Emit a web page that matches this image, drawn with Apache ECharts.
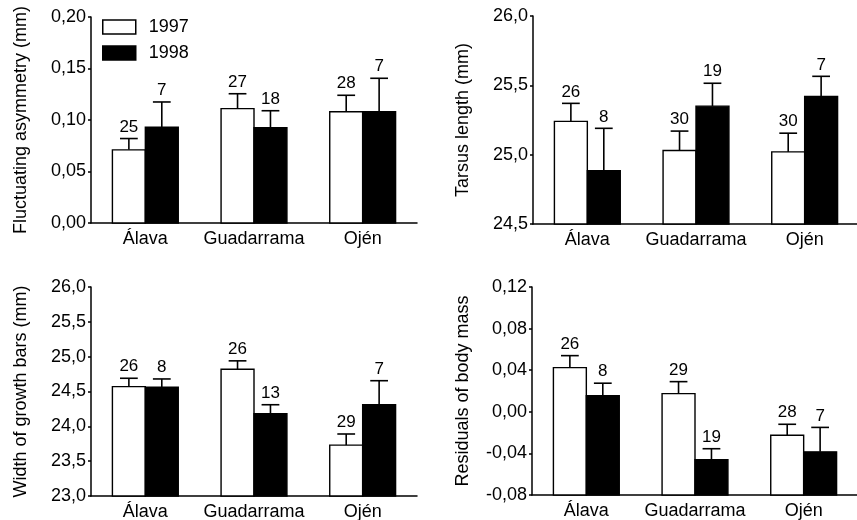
<!DOCTYPE html>
<html><head><meta charset="utf-8">
<script src="https://cdn.jsdelivr.net/npm/echarts@6/dist/echarts.min.js"></script>
<style>html,body{margin:0;padding:0;background:#fff}#c{width:857px;height:520px}</style>
</head><body><div id="c"></div>
<script>
const categories = ['Álava', 'Guadarrama', 'Ojén'];
const years = ['1997', '1998'];

// Panel A: Fluctuating asymmetry (mm)
const faMean1997 = [0.071, 0.111, 0.108];
const faSE1997   = [0.011, 0.0145, 0.016];
const faN1997    = [25, 27, 28];
const faMean1998 = [0.093, 0.0925, 0.108];
const faSE1998   = [0.0245, 0.0165, 0.0325];
const faN1998    = [7, 18, 7];

// Panel B: Tarsus length (mm)
const tlMean1997 = [25.24, 25.03, 25.02];
const tlSE1997   = [0.13, 0.14, 0.135];
const tlN1997    = [26, 30, 30];
const tlMean1998 = [24.885, 25.35, 25.42];
const tlSE1998   = [0.305, 0.165, 0.145];
const tlN1998    = [8, 19, 7];

// Panel C: Width of growth bars (mm)
const gbMean1997 = [24.57, 24.82, 23.73];
const gbSE1997   = [0.12, 0.12, 0.16];
const gbN1997    = [26, 26, 29];
const gbMean1998 = [24.56, 24.18, 24.31];
const gbSE1998   = [0.12, 0.13, 0.345];
const gbN1998    = [8, 13, 7];

// Panel D: Residuals of body mass
const rbMean1997 = [0.0425, 0.0175, -0.0225];
const rbSE1997   = [0.0115, 0.0115, 0.0105];
const rbN1997    = [26, 29, 28];
const rbMean1998 = [0.0155, -0.046, -0.0385];
const rbSE1998   = [0.012, 0.0105, 0.0235];
const rbN1998    = [8, 19, 7];

// Axis ranges / tick labels
const faTicks = {min: 0, max: 0.20, interval: 0.05, decimals: 2};
const tlTicks = {min: 24.5, max: 26.0, interval: 0.5, decimals: 1};
const gbTicks = {min: 23.0, max: 26.0, interval: 0.5, decimals: 1};
const rbTicks = {min: -0.08, max: 0.12, interval: 0.04, decimals: 2};

const FONT = '"Liberation Sans", Arial, Helvetica, sans-serif';

const panels = [
  {title: 'Fluctuating asymmetry (mm)', ticks: faTicks,
   s: [[faMean1997, faSE1997, faN1997], [faMean1998, faSE1998, faN1998]],
   grid: {left: 91, top: 17, width: 326, height: 206}, gap: 61},
  {title: 'Tarsus length (mm)', ticks: tlTicks,
   s: [[tlMean1997, tlSE1997, tlN1997], [tlMean1998, tlSE1998, tlN1998]],
   grid: {left: 533, top: 16, width: 326, height: 208}, gap: 61},
  {title: 'Width of growth bars (mm)', ticks: gbTicks,
   s: [[gbMean1997, gbSE1997, gbN1997], [gbMean1998, gbSE1998, gbN1998]],
   grid: {left: 91, top: 287, width: 326, height: 209}, gap: 61},
  {title: 'Residuals of body mass', ticks: rbTicks,
   s: [[rbMean1997, rbSE1997, rbN1997], [rbMean1998, rbSE1998, rbN1998]],
   grid: {left: 532, top: 287, width: 326, height: 208}, gap: 60}
];

const fills = ['#ffffff', '#000000'];

function makeRender(side, fill, axisMin) {
  return function (params, api) {
    const ci = api.value(0);
    const v = api.value(1);
    const top = api.value(2);
    const n = api.value(3);
    const band = api.size([1, 0])[0];
    const bw = band * 0.303;
    const p = api.coord([ci, v]);
    const base = api.coord([ci, axisMin])[1];
    const eTop = api.coord([ci, top])[1];
    const x0 = side === 0 ? p[0] - bw : p[0];
    const cx = x0 + bw / 2;
    const cap = bw * 0.54;
    return {
      type: 'group',
      children: [
        {type: 'line', shape: {x1: cx, y1: p[1], x2: cx, y2: eTop},
         style: {stroke: '#000', lineWidth: 1.6}},
        {type: 'line', shape: {x1: cx - cap / 2, y1: eTop, x2: cx + cap / 2, y2: eTop},
         style: {stroke: '#000', lineWidth: 1.6}},
        {type: 'rect', shape: {x: x0, y: p[1], width: bw, height: base - p[1]},
         style: {fill: fill, stroke: '#000', lineWidth: 1.4}},
        {type: 'text', style: {x: cx, y: eTop - 3, text: String(n), align: 'center',
          verticalAlign: 'bottom', fontSize: 17, fontFamily: FONT, fill: '#000'}}
      ]
    };
  };
}

const grids = [], xAxes = [], yAxes = [], series = [];
panels.forEach((pn, k) => {
  grids.push(Object.assign({containLabel: false, outerBoundsMode: 'none'}, pn.grid));
  xAxes.push({
    type: 'category', gridIndex: k, data: categories,
    axisLine: {show: true, onZero: false, lineStyle: {color: '#000', width: 1.5}},
    axisTick: {show: false},
    axisLabel: {color: '#000', fontSize: 18, fontFamily: FONT, margin: 7, interval: 0},
    splitLine: {show: false}
  });
  yAxes.push({
    type: 'value', gridIndex: k,
    min: pn.ticks.min, max: pn.ticks.max, interval: pn.ticks.interval,
    axisLine: {show: true, lineStyle: {color: '#000', width: 1.5}},
    axisTick: {show: true, inside: false, length: 3, lineStyle: {color: '#000', width: 1.5}},
    splitLine: {show: false},
    axisLabel: {color: '#000', fontSize: 18, fontFamily: FONT, margin: 5,
      formatter: (v) => v.toFixed(pn.ticks.decimals).replace('.', ',')},
    name: pn.title, nameLocation: 'middle', nameGap: pn.gap, nameRotate: 90,
    nameTextStyle: {color: '#000', fontSize: 18, fontFamily: FONT}
  });
  pn.s.forEach((arr, side) => {
    const [mean, se, n] = arr;
    series.push({
      type: 'custom', name: years[side], xAxisIndex: k, yAxisIndex: k,
      itemStyle: {color: fills[side], borderColor: '#000', borderWidth: 1.5},
      encode: {x: 0, y: 1},
      renderItem: makeRender(side, fills[side], pn.ticks.min),
      data: categories.map((c, i) => [i, mean[i], mean[i] + se[i], n[i]]),
      silent: true, animation: false
    });
  });
});

const chart = echarts.init(document.getElementById('c'), null, {renderer: 'canvas'});
chart.setOption({
  backgroundColor: '#fff',
  animation: false,
  legend: {
    orient: 'vertical', left: 102, top: 18, padding: 0, icon: 'rect',
    itemWidth: 33, itemHeight: 14, itemGap: 8,
    textStyle: {color: '#000', fontSize: 18, fontFamily: FONT, lineHeight: 14, padding: [0, 0, 0, 8]},
    selectedMode: false,
    data: [
      {name: '1997', itemStyle: {color: '#fff', borderColor: '#000', borderWidth: 1.5}},
      {name: '1998', itemStyle: {color: '#000', borderColor: '#000', borderWidth: 1.5}}
    ]
  },
  grid: grids, xAxis: xAxes, yAxis: yAxes, series: series
});
</script>
</body></html>
